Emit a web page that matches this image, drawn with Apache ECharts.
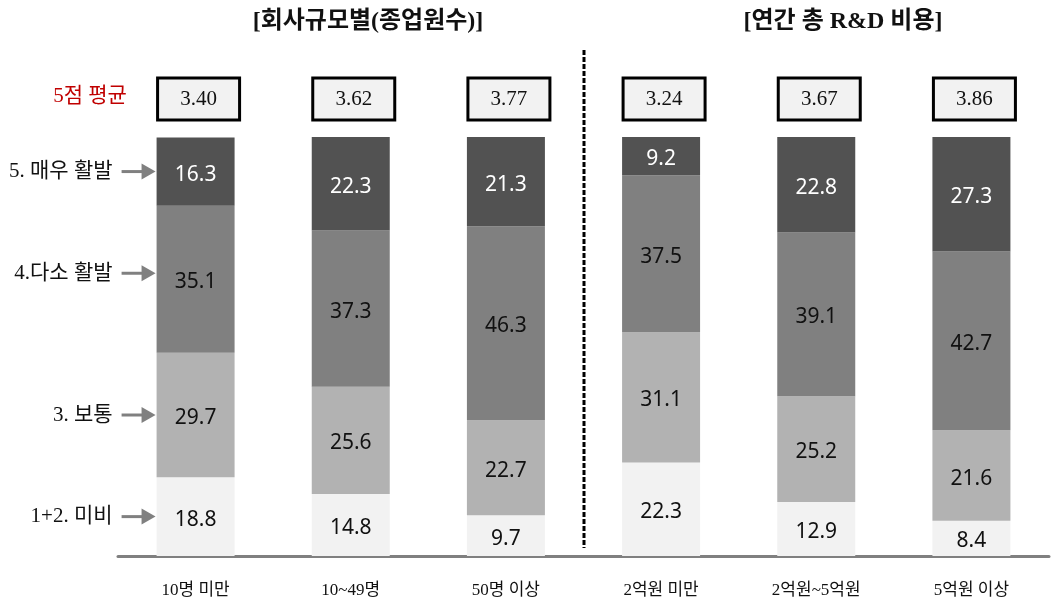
<!DOCTYPE html>
<html><head><meta charset="utf-8">
<script src="https://cdn.jsdelivr.net/npm/echarts@6/dist/echarts.min.js"></script>
<style>html,body{margin:0;padding:0;background:#fff}#c{width:1055px;height:607px}</style>
</head><body><div id="c"></div>
<script>
const categories = ['10명 미만','10~49명','50명 이상','2억원 미만','2억원~5억원','5억원 이상'];
const s12 = [18.8,14.8,9.7,22.3,12.9,8.4];
const s3  = [29.7,25.6,22.7,31.1,25.2,21.6];
const s4  = [35.1,37.3,46.3,37.5,39.1,42.7];
const s5  = [16.3,22.3,21.3,9.2,22.8,27.3];
const avg = [3.40,3.62,3.77,3.24,3.67,3.86];
const seriesNames = ['1+2. 미비','3. 보통','4.다소 활발','5. 매우 활발'];
const groupTitles = ['[회사규모별(종업원수)]','[연간 총 R&D 비용]'];
const avgTitle = '5점 평균';

const SERIF = "'Liberation Serif','Noto Sans CJK KR',serif";
const SANS = "'Noto Sans','Noto Sans CJK KR',sans-serif";
const colors = ['#f2f2f2','#b2b2b2','#808080','#525252'];
const BW = 78;

const chart = echarts.init(document.getElementById('c'));
const vals = [s12,s3,s4,s5];

const legendPts = [];
let cum = 0;
vals.forEach((arr,i)=>{ legendPts.push([0, cum + arr[0]/2]); cum += arr[0]; });

const barSeries = vals.map((arr,i)=>({
  name: seriesNames[i], type:'bar', stack:'t', data: arr, barWidth: BW,
  itemStyle:{color: colors[i]},
  label:{show:true, position:'inside', offset:[0,3], fontFamily:SANS, fontSize:21,
    color: i===3 ? '#ffffff' : '#111111', formatter: p=>p.value.toFixed(1)},
  emphasis:{disabled:true}, animation:false
}));

chart.setOption({
  animation:false,
  grid:{left:118, right:6, top:137, bottom:51},
  xAxis:{type:'category', data:categories,
    axisLine:{lineStyle:{color:'#808080', width:3}}, axisTick:{show:false},
    axisLabel:{fontFamily:SERIF, fontSize:17, color:'#111', margin:26}},
  yAxis:{type:'value', min:0, max:100, show:false},
  series:[...barSeries,
    { type:'custom', clip:false, silent:true, z:5,
      data: avg.map((v,i)=>[i, 100]),
      renderItem:(params, api)=>{
        const p = api.coord([api.value(0), api.value(1)]);
        const i = params.dataIndex;
        return {type:'group', children:[
          {type:'rect', shape:{x:p[0]-38, y:p[1]-59, width:82, height:42},
            style:{fill:'#f2f2f2', stroke:'#000', lineWidth:3}},
          {type:'text', style:{x:p[0]+3, y:p[1]-38, text:avg[i].toFixed(2),
            fontFamily:SERIF, fontSize:21, fill:'#111', align:'center', verticalAlign:'middle'}}
        ]};
      }},
    { type:'custom', clip:false, silent:true, z:5,
      data: legendPts,
      renderItem:(params, api)=>{
        const p = api.coord([api.value(0), api.value(1)]);
        const left = p[0] - BW/2;
        const y = p[1] - (params.dataIndex===2 ? 6 : 0);
        return {type:'group', children:[
          {type:'text', style:{x:left-44, y:y, text:seriesNames[params.dataIndex],
            fontFamily:SERIF, fontSize:21, fill:'#111', align:'right', verticalAlign:'middle'}},
          {type:'line', shape:{x1:left-35, y1:y, x2:left-12, y2:y},
            style:{stroke:'#808080', lineWidth:3}},
          {type:'polygon', shape:{points:[[left-15,y-8],[left-1,y],[left-15,y+8]]},
            style:{fill:'#808080'}}
        ]};
      }}
  ],
  graphic:[
    {type:'line', shape:{x1:584, y1:50, x2:584, y2:548},
      style:{stroke:'#000', lineWidth:3, lineDash:[5,2]}},
    {type:'text', x:368, y:22, style:{text:groupTitles[0], fontFamily:SERIF, fontSize:24, fontWeight:'bold',
      fill:'#111', align:'center', verticalAlign:'middle'}},
    {type:'text', x:843, y:22, style:{text:groupTitles[1], fontFamily:SERIF, fontSize:24, fontWeight:'bold',
      fill:'#111', align:'center', verticalAlign:'middle'}},
    {type:'text', x:90, y:96, style:{text:avgTitle, fontFamily:SERIF, fontSize:21,
      fill:'#c00000', align:'center', verticalAlign:'middle'}}
  ]
});
</script></body></html>
